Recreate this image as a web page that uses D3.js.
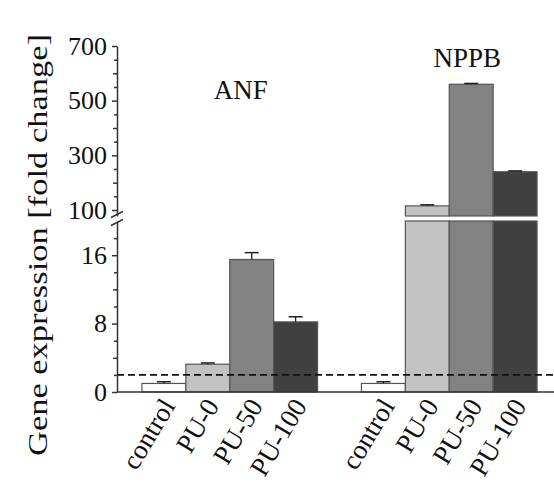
<!DOCTYPE html>
<html>
<head>
<meta charset="utf-8">
<script src="https://cdn.jsdelivr.net/npm/d3@7"></script>
<style>
  html, body { margin: 0; padding: 0; background: #fff; }
  svg { display: block; font-family: "Liberation Serif", "Times New Roman", serif; }
</style>
</head>
<body>
<svg id="chart" width="554" height="486"></svg>
<script>
// ---- data ----
const genes = ["ANF", "NPPB"];
const categories = ["control", "PU-0", "PU-50", "PU-100"];
const anfValues = [1.0, 3.25, 15.5, 8.2];
const anfErrors = [0.2, 0.15, 0.8, 0.6];
const nppbValues = [1.0, 115, 560, 240];
const nppbErrors = [0.2, 4, 3, 3];
const threshold = 2;
const lowerMajorTicks = [0, 8, 16];
const lowerMidTicks = [4, 12];
const lowerMinorTicks = [2, 6, 10, 14, 18];
const upperMajorTicks = [100, 300, 500, 700];
const upperMidTicks = [200, 400, 600];
const upperMinorTicks = [150, 250, 350, 450, 550, 650];
const breakLow = 20;   // top of lower segment
const breakHigh = 78;  // bottom of upper segment
const fills = ["#ffffff", "#c2c2c2", "#828282", "#404040"];
const seriesByGene = { ANF: [anfValues, anfErrors], NPPB: [nppbValues, nppbErrors] };

// ---- layout ----
const svg = d3.select("#chart");
const axisX = 117;
const yLow = d3.scaleLinear().domain([0, breakLow]).range([392, 221]);
const yHigh = d3.scaleLinear().domain([breakHigh, 700]).range([216, 46]);
const xGroup = d3.scaleBand().domain(genes).range([120, 559]).paddingInner(0.2).paddingOuter(0.1);
const xBar = d3.scaleBand().domain(categories).range([0, xGroup.bandwidth()]).padding(0);
const axisColor = "#333";

// ---- bars ----
genes.forEach(g => {
  const [vals, errs] = seriesByGene[g];
  const grp = svg.append("g").attr("transform", `translate(${xGroup(g)},0)`);
  categories.forEach((c, i) => {
    const v = vals[i], e = errs[i];
    const x0 = xBar(c), w = xBar.bandwidth();
    let topY;
    if (v <= breakLow) {
      topY = yLow(v);
      grp.append("rect").attr("x", x0).attr("y", topY).attr("width", w)
        .attr("height", yLow(0) - topY).attr("fill", fills[i])
        .attr("stroke", "#555").attr("stroke-width", 1.2);
    } else {
      grp.append("rect").attr("x", x0).attr("y", yLow(breakLow)).attr("width", w)
        .attr("height", yLow(0) - yLow(breakLow)).attr("fill", fills[i])
        .attr("stroke", "#555").attr("stroke-width", 1.2);
      topY = yHigh(v);
      grp.append("rect").attr("x", x0).attr("y", topY).attr("width", w)
        .attr("height", yHigh(breakHigh) - topY).attr("fill", fills[i])
        .attr("stroke", "#555").attr("stroke-width", 1.2);
    }
    const errY = v <= breakLow ? yLow(v + e) : yHigh(v + e);
    const cx = x0 + w / 2;
    grp.append("line").attr("x1", cx).attr("x2", cx).attr("y1", topY).attr("y2", errY)
      .attr("stroke", "#222").attr("stroke-width", 1.3);
    grp.append("line").attr("x1", cx - 7).attr("x2", cx + 7).attr("y1", errY).attr("y2", errY)
      .attr("stroke", "#222").attr("stroke-width", 1.5);
  });
  // gene title
  const isNppb = g === "NPPB";
  svg.append("text")
    .attr("x", xGroup(g) + xGroup.bandwidth() / 2 + (isNppb ? 18 : 11))
    .attr("y", isNppb ? 67 : 99)
    .attr("text-anchor", "middle").attr("font-size", 27).attr("fill", "#111")
    .text(g);
  // category labels
  categories.forEach((c, i) => {
    const cx = xGroup(g) + xBar(c) + xBar.bandwidth() / 2 + 4;
    svg.append("text")
      .attr("transform", `translate(${cx},${401}) rotate(-59)`)
      .attr("text-anchor", "end").attr("dy", "0.35em")
      .attr("font-size", 27).attr("fill", "#111")
      .text(c);
  });
});

// ---- threshold dashed line ----
svg.append("line").attr("x1", axisX).attr("x2", 554)
  .attr("y1", yLow(threshold)).attr("y2", yLow(threshold))
  .attr("stroke", "#111").attr("stroke-width", 1.8).attr("stroke-dasharray", "7,4");

// ---- x baseline ----
svg.append("line").attr("x1", axisX).attr("x2", 554)
  .attr("y1", yLow(0)).attr("y2", yLow(0))
  .attr("stroke", axisColor).attr("stroke-width", 1.5);

// ---- y axes ----
function drawAxis(scale, major, mid, minor) {
  const gMinor = svg.append("g").attr("transform", `translate(${axisX},0)`)
    .call(d3.axisLeft(scale).tickValues(minor).tickSize(3).tickFormat(""));
  gMinor.select(".domain").remove();
  const gMid = svg.append("g").attr("transform", `translate(${axisX},0)`)
    .call(d3.axisLeft(scale).tickValues(mid).tickSize(4).tickFormat(""));
  gMid.select(".domain").remove();
  const gMaj = svg.append("g").attr("transform", `translate(${axisX},0)`)
    .call(d3.axisLeft(scale).tickValues(major).tickSize(5).tickSizeOuter(0).tickPadding(5));
  gMaj.selectAll("text").attr("font-size", 26).attr("fill", "#111")
    .attr("font-family", "Liberation Serif, serif");
  [gMinor, gMid, gMaj].forEach(g => g.selectAll("line,path").attr("stroke", axisColor).attr("stroke-width", 1.5));
}
drawAxis(yLow, lowerMajorTicks, lowerMidTicks, lowerMinorTicks);
drawAxis(yHigh, upperMajorTicks, upperMidTicks, upperMinorTicks);

// ---- break mark ----
const bm = (yHigh(breakHigh) + yLow(breakLow)) / 2;
[-4, 4].forEach(o => {
  svg.append("line").attr("x1", axisX - 6).attr("x2", axisX + 6)
    .attr("y1", bm + o + 3).attr("y2", bm + o - 3)
    .attr("stroke", axisColor).attr("stroke-width", 1.5);
});

// ---- y title ----
svg.append("text")
  .attr("transform", `translate(47,245) rotate(-90)`)
  .attr("text-anchor", "middle").attr("font-size", 28).attr("fill", "#111")
  .attr("textLength", 422).attr("lengthAdjust", "spacingAndGlyphs")
  .text("Gene expression  [fold change]");
</script>
</body>
</html>
